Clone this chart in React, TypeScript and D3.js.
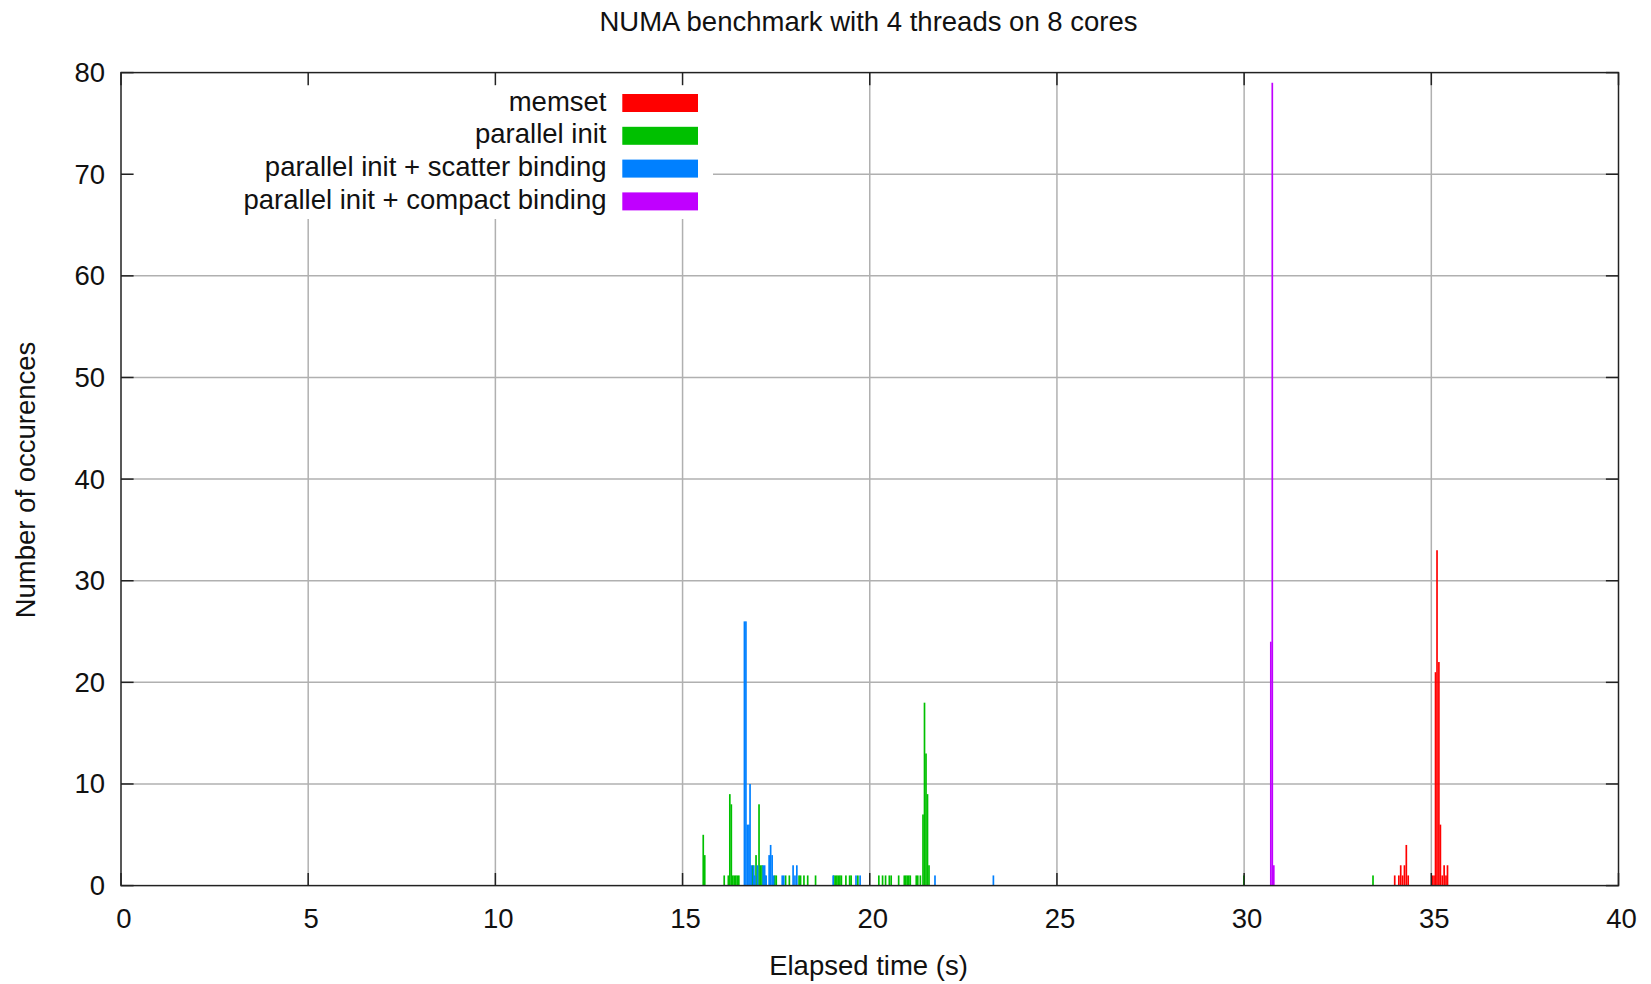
import React from 'react';
import * as d3 from 'd3';

const TITLE = 'NUMA benchmark with 4 threads on 8 cores';
const X_LABEL = 'Elapsed time (s)';
const Y_LABEL = 'Number of occurences';

const xTicks = [0, 5, 10, 15, 20, 25, 30, 35, 40];
const yTicks = [0, 10, 20, 30, 40, 50, 60, 70, 80];

const seriesNames = [
  'memset',
  'parallel init',
  'parallel init + scatter binding',
  'parallel init + compact binding',
];
const seriesColors = ['#ff0000', '#00c000', '#0080ff', '#c000ff'];

// [elapsed time (s), occurrences]
const memset: [number, number][] = [
  [34.0, 1], [34.11, 1], [34.16, 2], [34.21, 1], [34.26, 2], [34.31, 4], [34.36, 1],
  [35.0, 1], [35.05, 1], [35.09, 21], [35.13, 33], [35.18, 22], [35.22, 6],
  [35.27, 1], [35.32, 2], [35.37, 1], [35.41, 2],
];

const parallelInit: [number, number][] = [
  [15.53, 5], [15.57, 3], [16.09, 1], [16.2, 1], [16.24, 9], [16.28, 8], [16.32, 1],
  [16.36, 1], [16.4, 1], [16.44, 1], [16.48, 1], [16.85, 2], [16.94, 3], [17.02, 8],
  [17.06, 2], [17.1, 2], [17.18, 1], [17.44, 1], [17.48, 1], [17.73, 1], [17.83, 1],
  [18.09, 1], [18.13, 1], [18.22, 1], [18.32, 1], [18.53, 1], [19.02, 1], [19.06, 1],
  [19.1, 1], [19.14, 1], [19.18, 1], [19.22, 1], [19.34, 1], [19.44, 1], [19.48, 1],
  [19.66, 1], [20.22, 1], [20.32, 1], [20.4, 1], [20.5, 1], [20.55, 1], [20.75, 1],
  [20.9, 1], [20.94, 1], [20.98, 1], [21.02, 1], [21.06, 1], [21.22, 1], [21.26, 1],
  [21.33, 1], [21.4, 7], [21.44, 18], [21.48, 13], [21.52, 9], [21.56, 2],
  [29.97, 1], [33.42, 1],
];

const scatterBinding: [number, number][] = [
  [16.63, 26], [16.67, 26], [16.71, 6], [16.75, 6], [16.78, 10], [16.82, 2], [16.88, 2],
  [16.91, 1], [16.98, 2], [17.13, 2], [17.17, 2], [17.21, 1], [17.29, 3], [17.33, 4],
  [17.37, 3], [17.41, 1], [17.64, 1], [17.68, 1], [17.93, 2], [17.98, 1], [18.03, 2],
  [19.0, 1], [19.61, 1], [19.72, 1], [21.72, 1], [23.28, 1],
];

const compactBinding: [number, number][] = [
  [30.69, 24], [30.73, 79], [30.77, 2],
];

const seriesData = [memset, parallelInit, scatterBinding, compactBinding];

const BIN_W = 0.045;

const W = 1651;
const H = 984;
const FONT = '"Liberation Sans", Arial, Helvetica, sans-serif';
const FS = 27.5;

export default function App() {
  const left = 121;
  const right = 1618.5;
  const top = 72.6;
  const bottom = 885.6;
  const x = d3.scaleLinear().domain([0, 40]).range([left, right]);
  const y = d3.scaleLinear().domain([0, 80]).range([bottom, top]);
  const tick = 12.6;

  const legendRight = 606.5;
  const swatchX = 622.3;
  const swatchW = 75.7;
  const rowY0 = 103;
  const rowStep = 32.8;

  return (
    <svg
      width={W}
      height={H}
      style={{ position: 'absolute', left: 0, top: 0, display: 'block', background: '#fff' }}
      fontFamily={FONT}
    >
      <rect x={0} y={0} width={W} height={H} fill="#fff" />
      {/* grid */}
      <g stroke="#b0b0b0" strokeWidth={1.5}>
        {xTicks.slice(1, -1).map((t) => (
          <line key={'gx' + t} x1={x(t)} x2={x(t)} y1={top} y2={bottom} />
        ))}
        {yTicks.slice(1, -1).map((t) => (
          <line key={'gy' + t} x1={left} x2={right} y1={y(t)} y2={y(t)} />
        ))}
      </g>
      {/* opaque legend area */}
      <rect x={left} y={top} width={713 - left} height={219 - top} fill="#fff" />
      {/* bars */}
      {seriesData.map((data, si) => (
        <g key={'s' + si} fill={seriesColors[si]}>
          {data.map(([t, c], i) => (
            <rect
              key={i}
              x={x(t)}
              width={x(t + BIN_W) - x(t)}
              y={y(c)}
              height={y(0) - y(c)}
            />
          ))}
        </g>
      ))}
      {/* border */}
      <rect
        x={left}
        y={top}
        width={right - left}
        height={bottom - top}
        fill="none"
        stroke="#222"
        strokeWidth={1.5}
      />
      {/* ticks */}
      <g stroke="#222" strokeWidth={1.5}>
        {xTicks.map((t) => (
          <g key={'tx' + t}>
            <line x1={x(t)} x2={x(t)} y1={bottom} y2={bottom - tick} />
            <line x1={x(t)} x2={x(t)} y1={top} y2={top + tick} />
          </g>
        ))}
        {yTicks.map((t) => (
          <g key={'ty' + t}>
            <line x1={left} x2={left + tick} y1={y(t)} y2={y(t)} />
            <line x1={right} x2={right - tick} y1={y(t)} y2={y(t)} />
          </g>
        ))}
      </g>
      {/* tick labels */}
      <g fontSize={FS} fill="#111">
        {xTicks.map((t) => (
          <text key={'lx' + t} x={x(t) + 3} y={928} textAnchor="middle">
            {t}
          </text>
        ))}
        {yTicks.map((t) => (
          <text key={'ly' + t} x={105} y={y(t) + 9.5} textAnchor="end">
            {t}
          </text>
        ))}
      </g>
      {/* legend */}
      <g fontSize={FS} fill="#111">
        {seriesNames.map((name, i) => (
          <g key={'lg' + i}>
            <text x={legendRight} y={rowY0 + i * rowStep + 7.5} textAnchor="end">
              {name}
            </text>
            <rect
              x={swatchX}
              y={rowY0 + i * rowStep - 9}
              width={swatchW}
              height={18}
              fill={seriesColors[i]}
            />
          </g>
        ))}
      </g>
      {/* titles */}
      <text x={868.5} y={30.5} textAnchor="middle" fontSize={FS} fill="#111">
        {TITLE}
      </text>
      <text x={868.5} y={975} textAnchor="middle" fontSize={FS} fill="#111">
        {X_LABEL}
      </text>
      <text
        transform={`translate(35, 480) rotate(-90)`}
        textAnchor="middle"
        fontSize={FS}
        fill="#111"
      >
        {Y_LABEL}
      </text>
    </svg>
  );
}
